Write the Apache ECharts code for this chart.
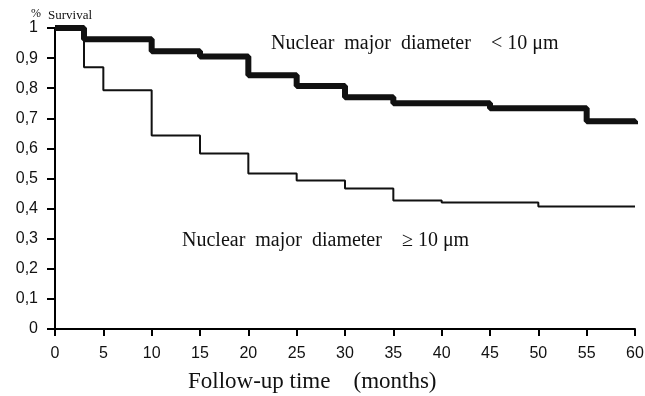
<!DOCTYPE html>
<html><head><meta charset="utf-8">
<script src="https://cdn.jsdelivr.net/npm/echarts@6/dist/echarts.min.js"></script>
<style>html,body{margin:0;padding:0;background:#fff}#c{width:645px;height:396px}</style>
</head><body><div id="c"></div>
<script>
// Kaplan-Meier steps: time (months) and survival after each drop
const smallTimes = [0, 3, 10, 15, 20, 25, 30, 35, 45, 55, 60];
const smallSurv  = [1, 0.963, 0.923, 0.905, 0.843, 0.807, 0.77, 0.75, 0.733, 0.69, 0.68];
const largeTimes = [0, 3, 5, 10, 15, 20, 25, 30, 35, 40, 50, 60];
const largeSurv  = [1, 0.87, 0.793, 0.643, 0.583, 0.517, 0.493, 0.467, 0.427, 0.42, 0.407, 0.407];
const yTicks = [0, 0.1, 0.2, 0.3, 0.4, 0.5, 0.6, 0.7, 0.8, 0.9, 1];
const xTicks = [0, 5, 10, 15, 20, 25, 30, 35, 40, 45, 50, 55, 60];

const zip = (a, b) => a.map((t, i) => [t, b[i]]);
const chart = echarts.init(document.getElementById('c'));
const serif = 'Liberation Serif';
const sans = 'Liberation Sans';
chart.setOption({
  animation: false,
  backgroundColor: '#fff',
  grid: { left: 55, right: 10, top: 28, bottom: 67, containLabel: false, outerBoundsMode: 'none' },
  xAxis: {
    type: 'value', min: 0, max: 60, interval: 5,
    axisLine: { lineStyle: { color: '#000', width: 2 } },
    axisTick: { length: 7, lineStyle: { color: '#000', width: 2 } },
    axisLabel: { color: '#111', fontFamily: sans, fontSize: 16, margin: 17 },
    splitLine: { show: false }
  },
  yAxis: {
    type: 'value', min: 0, max: 1, interval: 0.1,
    axisLine: { lineStyle: { color: '#000', width: 2 } },
    axisTick: { length: 8, lineStyle: { color: '#000', width: 2 } },
    axisLabel: { color: '#111', fontFamily: sans, fontSize: 16, margin: 17,
      formatter: v => String(Math.round(v * 10) / 10).replace('.', ',') },
    splitLine: { show: false }
  },
  series: [
    { type: 'line', step: 'end', symbol: 'none', data: zip(largeTimes, largeSurv),
      lineStyle: { color: '#111', width: 2 } },
    { type: 'line', step: 'end', symbol: 'none', data: zip(smallTimes, smallSurv),
      lineStyle: { color: '#111', width: 6 } }
  ],
  graphic: [
    { type: 'text', left: 31, top: 8, style: { text: '%', font: '12px "Liberation Serif"', fill: '#111' } },
    { type: 'text', left: 48, top: 9, style: { text: 'Survival', font: '13px "Liberation Serif"', fill: '#111' } },
    { type: 'text', left: 271, top: 34, style: { text: 'Nuclear  major  diameter    < 10 \u03bcm', font: '20px "Liberation Serif"', fill: '#111' } },
    { type: 'text', left: 182, top: 231, style: { text: 'Nuclear  major  diameter    \u2265 10 \u03bcm', font: '20px "Liberation Serif"', fill: '#111' } },
    { type: 'text', left: 188, top: 370, style: { text: 'Follow-up time    (months)', font: '23px "Liberation Serif"', fill: '#111' } }
  ]
});
</script></body></html>
